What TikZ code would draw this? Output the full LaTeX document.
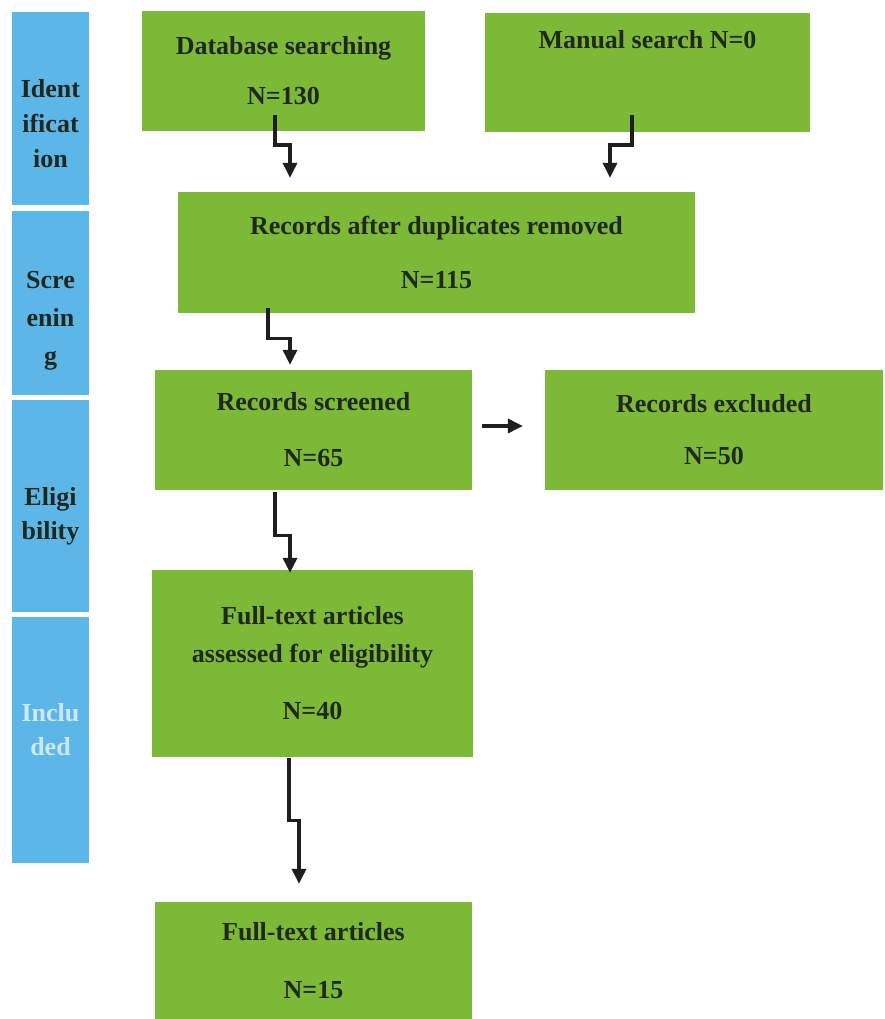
\documentclass[tikz,border=0pt]{standalone}
\usepackage{fontspec}
\setmainfont{Liberation Serif}
\usetikzlibrary{arrows.meta,calc}
\definecolor{boxgreen}{RGB}{124,185,54}
\definecolor{sideblue}{RGB}{93,182,232}
\definecolor{inkdark}{RGB}{32,40,30}
\definecolor{paleink}{RGB}{205,232,248}
\definecolor{arrowink}{RGB}{30,30,30}
\begin{document}
\begin{tikzpicture}[x=1pt,y=-1pt,
  gbox/.style={fill=boxgreen,draw=none,inner sep=0pt,align=center,text=inkdark,
    font=\fontsize{26}{38}\selectfont\bfseries},
  sidebox/.style={fill=sideblue,draw=none,inner sep=0pt,minimum width=77pt},
  sidetext/.style={align=center,text=inkdark,inner sep=0pt,
    font=\fontsize{26}{35}\selectfont\bfseries},
  arr/.style={draw=arrowink,line width=3.4pt,-{Triangle[length=15pt,width=14pt]}}]
\useasboundingbox (0,0) rectangle (885,1019);
\fill[white] (0,0) rectangle (885,1019);

% sidebar
\node[sidebox,minimum height=193pt] (s1) at (50.5,108.5) {};
\node[sidebox,minimum height=184pt] (s2) at (50.5,303) {};
\node[sidebox,minimum height=212pt] (s3) at (50.5,506) {};
\node[sidebox,minimum height=246pt] (s4) at (50.5,740) {};
\node[sidetext] (t1) at ($(s1.center)+(0,15)$) {Ident\\ificat\\ion};
\node[sidetext,font=\fontsize{26}{38}\selectfont\bfseries] (t2) at ($(s2.center)+(0,18)$) {Scre\\enin\\g};
\node[sidetext,font=\fontsize{26}{34}\selectfont\bfseries] (t3) at ($(s3.center)+(0,10)$) {Eligi\\bility};
\node[sidetext,text=paleink,font=\fontsize{26}{34}\selectfont\bfseries] (t4) at ($(s4.center)+(0,-10)$) {Inclu\\ded};

% green boxes
\node[gbox,minimum width=283pt,minimum height=120pt] (db) at (283.5,71) {Database searching\\[12pt]N=130};
\node[gbox,minimum width=325pt,minimum height=119pt,text depth=66pt] (man) at (647.5,72.5) {Manual search N=0};
\node[gbox,minimum width=517pt,minimum height=121pt] (dup) at (436.5,252.5) {Records after duplicates removed\\[16pt]N=115};
\node[gbox,minimum width=317pt,minimum height=120pt] (scr) at (313.5,430) {Records screened\\[18pt]N=65};
\node[gbox,minimum width=338pt,minimum height=120pt] (exc) at (714,430) {Records excluded\\[14pt]N=50};
\node[gbox,minimum width=321pt,minimum height=187pt] (ft) at (312.5,663.5) {Full-text articles\\assessed for eligibility\\[19pt]N=40};
\node[gbox,minimum width=317pt,minimum height=117pt] (fin) at (313.5,960.5) {Full-text articles\\[20pt]N=15};

% connectors
\draw[arr] ($(db.south)+(-8.5,-16)$) -- ++(0,30) -| ($(dup.north)+(-146.5,-14)$);
\draw[arr] ($(man.south)+(-15.5,-17)$) -- ++(0,30) -| ($(dup.north)+(173.5,-14)$);
\draw[arr] ($(dup.south)+(-168.5,-5)$) -- ++(0,30) -| ($(scr.north)+(-23.5,-5)$);
\draw[arr] ($(scr.east)+(10,-4)$) -- ($(exc.west)+(-22,-4)$);
\draw[arr] ($(scr.south)+(-38.5,2)$) -- ++(0,43) -| ($(ft.north)+(-22.5,3)$);
\draw[arr] ($(ft.south)+(-23.5,1)$) -- ++(0,62) -| ($(fin.north)+(-14.5,-18)$);
\end{tikzpicture}
\end{document}
